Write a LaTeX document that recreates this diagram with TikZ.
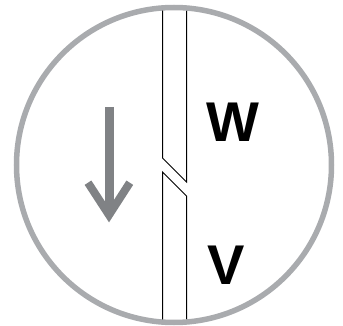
\documentclass[tikz,border=0pt]{standalone}
\usepackage{fontspec}
\setmainfont{Liberation Sans}
\usepackage{xcolor}
\definecolor{mRing}{HTML}{A9ABAE}
\definecolor{mArrow}{HTML}{808285}

\begin{document}
\begin{tikzpicture}[x=1pt, y=-1pt]
  \useasboundingbox (0,0) rectangle (343,326);
  % channel with the offset break
  \draw[line width=1pt] (162.5,10) -- (162.5,158) -- (186.5,182) -- (186.5,10);
  \draw[line width=1pt] (162.5,320) -- (162.5,172) -- (186.5,196) -- (186.5,320);
  % ring
  \draw[mRing, line width=5.5pt] (174,165) circle (157.5);
  % down arrow
  \draw[mArrow, line width=8.5pt] (109.5,107) -- (109.5,212);
  \draw[mArrow, line width=8pt, miter limit=10] (88,182.7) -- (109,215) -- (129.8,182.7);
  \node[font=\fontsize{56}{56}\selectfont\bfseries, inner sep=0pt, text=black, line width=0.3pt] (w) at (233,122.5) {W};
  \node[font=\fontsize{56}{56}\selectfont\bfseries, inner sep=0pt, text=black] (v) at (226,265) {V};
\end{tikzpicture}
\end{document}
